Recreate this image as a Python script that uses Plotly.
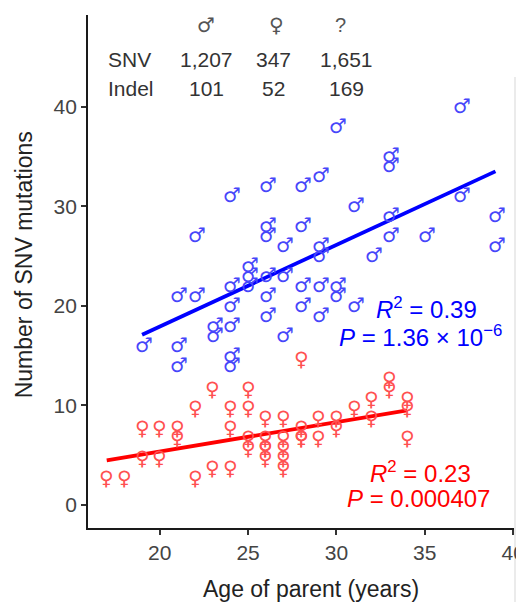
import plotly.graph_objects as go

# ---- data ----
male_age = [19,
            21, 21, 21,
            22, 22,
            23, 23,
            24, 24, 24, 24, 24, 24,
            25, 25, 25,
            26, 26, 26, 26, 26, 26,
            27, 27, 27,
            28, 28, 28, 28,
            29, 29, 29, 29, 29,
            30, 30, 30,
            31, 31,
            32,
            33, 33, 33, 33,
            35,
            37, 37,
            39, 39]
male_snv = [16,
            21, 16, 14,
            27, 21,
            18, 17,
            31, 22, 20, 18, 15, 14,
            24, 23, 22,
            32, 28, 27, 23, 21, 19,
            26, 23, 17,
            32, 28, 22, 20,
            33, 26, 25, 22, 19,
            38, 22, 21,
            30, 20,
            25,
            35, 34, 29, 27,
            27,
            40, 31,
            29, 26]

female_age = [17, 18, 19, 19, 20, 20, 21, 21, 22, 22, 23, 23,
              24, 24, 24, 25, 25, 25, 25,
              26, 26, 26, 26, 26,
              27, 27, 27, 27, 27,
              28, 28, 28, 28,
              29, 29, 30, 30, 31, 32, 32, 33, 33, 34, 34, 34]
female_snv = [3, 3, 8, 5, 8, 5, 8, 7, 10, 3, 12, 4,
              10, 8, 4, 12, 10, 7, 6,
              9, 7, 6, 6, 5,
              9, 7, 6, 5, 4,
              15, 8, 7, 7,
              9, 7, 9, 8, 10, 11, 9, 13, 12, 11, 10, 7]

# fitted lines (end points)
male_fit_age = [19, 39]
male_fit_snv = [17.1, 33.5]
female_fit_age = [17, 34]
female_fit_snv = [4.5, 9.5]

header_cols = ["\u2642", "\u2640", "?"]
snv_counts = ["1,207", "347", "1,651"]
indel_counts = ["101", "52", "169"]

male_stats = ["<i>R</i><sup>2</sup> = 0.39", "<i>P</i> = 1.36 \u00d7 10<sup>\u22126</sup>"]
female_stats = ["<i>R</i><sup>2</sup> = 0.23", "<i>P</i> = 0.000407"]

x_ticks = [20, 25, 30, 35, 40]
y_ticks = [0, 10, 20, 30, 40]

# ---- layout geometry (page offset of 8 px from the html body margin) ----
W, H = 524, 602
OFF = 8
L, T = 88 - OFF, 15 - OFF
PR, PB = 516 - OFF, 528 - OFF
R, B = W - PR, H - PB
PW, PH = PR - L, PB - T


def paper(xp, yp):
    """page pixel -> paper coords"""
    return (xp - OFF - L) / PW, (PB - (yp - OFF)) / PH


BLUE = "#0000ff"
RED = "#ff0000"
SYM_BLUE = "rgb(70,70,250)"
SYM_RED = "rgb(255,80,80)"
FONT = "Liberation Sans, Arial, Helvetica, sans-serif"
SYMFONT = "DejaVu Sans"

fig = go.Figure()

fig.add_trace(go.Scatter(x=male_fit_age, y=male_fit_snv, mode="lines",
                         line=dict(color=BLUE, width=3.8),
                         hoverinfo="skip", showlegend=False))
fig.add_trace(go.Scatter(x=female_fit_age, y=female_fit_snv, mode="lines",
                         line=dict(color=RED, width=3.8),
                         hoverinfo="skip", showlegend=False))

ann = []
for a, v in zip(male_age, male_snv):
    ann.append(dict(x=a, y=v, xref="x", yref="y", text="\u2642", showarrow=False,
                    xanchor="center", yanchor="middle", xshift=2, yshift=1,
                    font=dict(family=SYMFONT, size=20, color=SYM_BLUE)))
for a, v in zip(female_age, female_snv):
    ann.append(dict(x=a, y=v, xref="x", yref="y", text="\u2640", showarrow=False,
                    xanchor="center", yanchor="middle", yshift=-3,
                    font=dict(family=SYMFONT, size=20, color=SYM_RED)))

# header table
col_x = [207, 274, 348]
sym_x = [207, 277, 342]
for i in range(3):
    xx, yy = paper(sym_x[i], 25)
    ann.append(dict(x=xx, y=yy, xref="paper", yref="paper", text=header_cols[i],
                    showarrow=False, xanchor="center", yanchor="middle",
                    font=dict(family=SYMFONT if i < 2 else FONT, size=20, color="#555")))
    xx, yy = paper(col_x[i], 59)
    ann.append(dict(x=xx, y=yy, xref="paper", yref="paper", text=snv_counts[i],
                    showarrow=False, xanchor="center", yanchor="middle",
                    font=dict(family=FONT, size=21, color="#333")))
    xx, yy = paper(col_x[i], 88)
    ann.append(dict(x=xx, y=yy, xref="paper", yref="paper", text=indel_counts[i],
                    showarrow=False, xanchor="center", yanchor="middle",
                    font=dict(family=FONT, size=21, color="#333")))
for label, yp in [("SNV", 59), ("Indel", 88)]:
    xx, yy = paper(106, yp)
    ann.append(dict(x=xx, y=yy, xref="paper", yref="paper", text=label,
                    showarrow=False, xanchor="left", yanchor="middle",
                    font=dict(family=FONT, size=21, color="#333")))

# stats
for txt, (xp, yp) in zip(male_stats, [(428, 308), (422, 336)]):
    xx, yy = paper(xp, yp)
    ann.append(dict(x=xx, y=yy, xref="paper", yref="paper", text=txt,
                    showarrow=False, xanchor="center", yanchor="middle",
                    font=dict(family=FONT, size=24, color=BLUE)))
for txt, (xp, yp) in zip(female_stats, [(422, 472), (420, 498)]):
    xx, yy = paper(xp, yp)
    ann.append(dict(x=xx, y=yy, xref="paper", yref="paper", text=txt,
                    showarrow=False, xanchor="center", yanchor="middle",
                    font=dict(family=FONT, size=24, color=RED)))

# axis titles
xx, yy = paper(312, 589)
ann.append(dict(x=xx, y=yy, xref="paper", yref="paper", text="Age of parent (years)",
                showarrow=False, xanchor="center", yanchor="middle",
                font=dict(family=FONT, size=23, color="#222")))
xx, yy = paper(24, 265)
ann.append(dict(x=xx, y=yy, xref="paper", yref="paper", text="Number of SNV mutations",
                showarrow=False, xanchor="center", yanchor="middle", textangle=-90,
                font=dict(family=FONT, size=23, color="#222")))

# grey strip at the right edge
x0, _ = paper(516, 0)
x1, _ = paper(W + OFF, 0)
_, y0 = paper(0, H + OFF)
_, y1 = paper(0, 77)
shapes = [dict(type="rect", xref="paper", yref="paper", x0=x0, x1=x1, y0=y0, y1=y1,
               fillcolor="#ebebeb", line=dict(width=0), layer="below")]

axis_common = dict(showline=True, linecolor="#1a1a1a", linewidth=1.8,
                   ticks="outside", ticklen=5, tickwidth=1.5, tickcolor="#333",
                   showgrid=False, zeroline=False, ticklabeloverflow="allow",
                   tickfont=dict(family=FONT, size=21, color="#444"))

fig.update_layout(
    width=W, height=H,
    margin=dict(l=L, r=R, t=T, b=B, pad=0),
    paper_bgcolor="white", plot_bgcolor="white",
    xaxis=dict(range=[15.94, 40.05], tickvals=x_ticks, **axis_common),
    yaxis=dict(range=[-2.3, 49.2], tickvals=y_ticks, **axis_common),
    annotations=ann, shapes=shapes, showlegend=False,
)

fig.write_html("out.html")
